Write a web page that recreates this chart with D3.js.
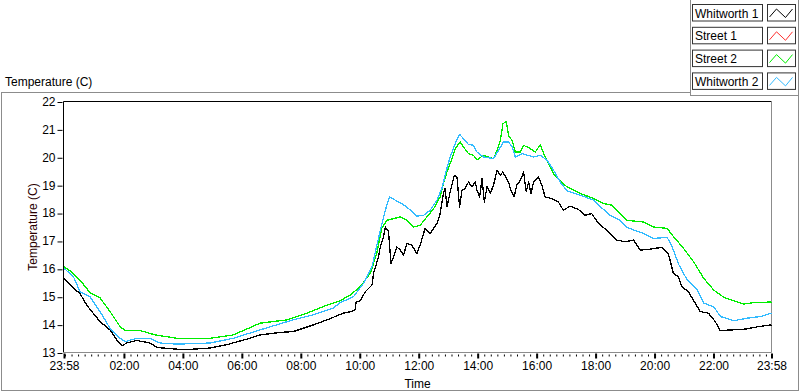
<!DOCTYPE html>
<html>
<head>
<meta charset="utf-8">
<script src="https://cdn.jsdelivr.net/npm/d3@7"></script>
<style>
  body { margin: 0; background: #fff; }
  svg { display: block; font-family: "Liberation Sans", Arial, sans-serif; }
  .axis text { font-size: 12px; fill: #000; }
  .axis line { stroke: #000; }
  .axis path { display: none; }
</style>
</head>
<body>
<div id="chart"></div>
<script>
// hours after 23:58 and temperature (C) for each plot
const whitworth1Hours = [0, 0.32, 0.54, 0.77, 0.99, 1.22, 1.56, 1.79, 1.96, 2.13, 2.47, 2.92, 3.15, 3.83, 4.39, 4.96, 5.52, 6.2, 6.65, 7.33, 7.78, 8.46, 8.92, 9.48, 9.76, 9.88, 9.91, 10.05, 10.22, 10.45, 10.5, 10.67, 10.73, 10.84, 10.9, 11.01, 11.09, 11.18, 11.29, 11.41, 11.52, 11.63, 11.8, 11.97, 12.08, 12.25, 12.42, 12.54, 12.65, 12.76, 12.87, 12.93, 12.99, 13.1, 13.24, 13.33, 13.42, 13.5, 13.61, 13.72, 13.84, 13.95, 14.01, 14.1, 14.18, 14.26, 14.35, 14.46, 14.57, 14.69, 14.8, 14.88, 14.99, 15.08, 15.16, 15.27, 15.36, 15.48, 15.59, 15.68, 15.76, 15.84, 15.93, 16.1, 16.21, 16.32, 16.55, 16.77, 16.94, 17.17, 17.45, 17.67, 17.9, 18.13, 18.47, 18.75, 19.04, 19.32, 19.55, 19.83, 20.28, 20.5, 20.67, 20.84, 20.96, 21.18, 21.41, 21.58, 21.86, 22.09, 22.26, 22.66, 23.12, 23.57, 24];
const whitworth1Temp = [15.66, 15.3, 15.12, 14.7, 14.41, 14.11, 13.81, 13.45, 13.24, 13.34, 13.43, 13.34, 13.18, 13.12, 13.12, 13.16, 13.28, 13.48, 13.63, 13.72, 13.75, 13.99, 14.17, 14.41, 14.47, 14.55, 14.82, 14.85, 15.18, 15.42, 15.84, 16.43, 16.79, 17.15, 17.5, 17.33, 16.2, 16.43, 16.79, 16.67, 16.49, 16.91, 16.85, 16.55, 16.85, 17.45, 17.27, 17.45, 17.63, 17.98, 18.7, 18.88, 18.22, 18.76, 19.35, 19.29, 18.22, 18.82, 18.88, 19.11, 18.94, 19.11, 18.82, 18.58, 19.23, 18.4, 18.94, 18.7, 19.0, 19.53, 19.35, 19.47, 19.29, 19.11, 18.82, 18.58, 19.0, 19.17, 19.47, 18.76, 19.11, 18.7, 19.11, 19.29, 19.0, 18.58, 18.52, 18.4, 18.1, 18.25, 18.13, 17.92, 17.98, 17.63, 17.33, 17.03, 16.97, 17.03, 16.67, 16.7, 16.77, 16.55, 15.84, 15.72, 15.36, 15.18, 14.77, 14.47, 14.41, 14.11, 13.79, 13.81, 13.84, 13.93, 13.99];

// Street 1 is listed in the legend but no red trace shows in the plot
const street1Hours = [];
const street1Temp = [];

const street2Hours = [0, 0.2, 0.54, 0.88, 1.22, 1.56, 1.9, 2.07, 2.58, 3.09, 3.83, 4.96, 5.74, 6.65, 7.56, 8.24, 8.92, 9.37, 9.71, 10.05, 10.39, 10.61, 10.78, 10.95, 11.18, 11.41, 11.63, 11.86, 12.08, 12.31, 12.54, 12.76, 12.87, 12.99, 13.16, 13.27, 13.44, 13.55, 13.72, 13.89, 14.01, 14.23, 14.57, 14.69, 14.8, 14.89, 15.0, 15.08, 15.2, 15.31, 15.48, 15.59, 15.82, 15.99, 16.16, 16.29, 16.44, 16.61, 16.84, 17.06, 17.52, 17.97, 18.31, 18.59, 18.87, 19.1, 19.66, 20.0, 20.46, 20.68, 21.02, 21.36, 21.7, 22.04, 22.38, 22.72, 23.06, 23.4, 24];
const street2Temp = [16.07, 15.93, 15.6, 15.15, 14.96, 14.47, 13.93, 13.79, 13.79, 13.63, 13.51, 13.51, 13.63, 14.05, 14.17, 14.41, 14.7, 14.86, 15.06, 15.36, 15.84, 16.55, 17.45, 17.74, 17.8, 17.86, 17.74, 17.5, 17.56, 17.86, 18.16, 18.58, 19.06, 19.47, 19.95, 20.31, 20.55, 20.37, 20.13, 20.07, 19.91, 20.07, 19.95, 20.25, 20.6, 21.2, 21.29, 20.78, 20.6, 20.19, 20.19, 20.43, 20.31, 20.19, 20.46, 20.07, 19.77, 19.41, 19.15, 18.94, 18.7, 18.52, 18.34, 18.28, 17.98, 17.74, 17.68, 17.5, 17.45, 17.15, 16.73, 16.25, 15.66, 15.24, 14.98, 14.86, 14.74, 14.79, 14.81];

const whitworth2Hours = [0, 0.32, 0.54, 0.88, 1.22, 1.56, 1.9, 2.07, 2.47, 2.92, 3.26, 3.83, 4.96, 5.74, 6.65, 7.77, 8.45, 9.13, 9.37, 9.82, 10.16, 10.45, 10.73, 10.9, 11.04, 11.24, 11.46, 11.69, 11.97, 12.2, 12.42, 12.65, 12.82, 12.97, 13.1, 13.27, 13.42, 13.55, 13.72, 13.89, 14.01, 14.23, 14.57, 14.74, 14.91, 15.08, 15.2, 15.31, 15.54, 15.93, 16.16, 16.39, 16.61, 16.84, 17.06, 17.52, 17.97, 18.2, 18.53, 18.87, 19.1, 19.66, 20.0, 20.46, 20.63, 20.86, 21.14, 21.48, 21.7, 22.04, 22.27, 22.72, 23.17, 23.63, 24];
const whitworth2Temp = [16.02, 15.72, 15.18, 15.0, 14.47, 13.87, 13.51, 13.39, 13.51, 13.51, 13.34, 13.3, 13.34, 13.51, 13.81, 14.17, 14.35, 14.59, 14.79, 15.0, 15.48, 16.07, 17.39, 18.1, 18.58, 18.46, 18.34, 18.16, 17.89, 17.92, 18.1, 18.46, 18.88, 19.53, 20.01, 20.49, 20.82, 20.67, 20.46, 20.43, 20.19, 20.01, 19.95, 20.25, 20.55, 20.55, 20.37, 20.01, 20.13, 20.01, 20.07, 19.89, 19.53, 19.1, 18.8, 18.64, 18.46, 18.22, 17.92, 17.74, 17.48, 17.27, 17.09, 17.13, 16.79, 16.14, 15.6, 15.24, 14.77, 14.64, 14.29, 14.14, 14.23, 14.29, 14.41];

const plotNames = ["Whitworth 1", "Street 1", "Street 2", "Whitworth 2"];
const plotColors = ["#000000", "#ff3030", "#00ee00", "#33bbff"];

const xTickHours = [0, 2.033, 4.033, 6.033, 8.033, 10.033, 12.033, 14.033, 16.033, 18.033, 20.033, 22.033, 24];
const xTickLabels = ["23:58", "02:00", "04:00", "06:00", "08:00", "10:00", "12:00", "14:00", "16:00", "18:00", "20:00", "22:00", "23:58"];
const yTicks = [13, 14, 15, 16, 17, 18, 19, 20, 21, 22];

const plots = [
  [whitworth1Hours, whitworth1Temp],
  [street1Hours, street1Temp],
  [street2Hours, street2Temp],
  [whitworth2Hours, whitworth2Temp]
].map(([h, t], i) => ({
  name: plotNames[i],
  color: plotColors[i],
  values: h.map((d, j) => ({ h: d, t: t[j] }))
}));

const width = 800, height = 392;
const plotLeft = 63.5, plotRight = 771.5, plotTop = 101.5, plotBottom = 352.5;

const svg = d3.select("#chart").append("svg")
  .attr("width", width)
  .attr("height", height);

// outer panel
svg.append("rect")
  .attr("x", 1.5).attr("y", 92.5)
  .attr("width", 797).attr("height", 298)
  .attr("fill", "#fff").attr("stroke", "#8c8c8c");

svg.append("text")
  .attr("x", 5).attr("y", 86)
  .style("font-size", "12px")
  .text("Temperature (C)");

const x = d3.scaleLinear().domain([0, 24]).range([plotLeft + 0.5, plotRight]);
const y = d3.scaleLinear().domain([13, 22]).range([plotBottom, plotTop]);

// plot frame: dark top/left, grey bottom/right
svg.append("line").attr("x1", plotLeft).attr("x2", plotRight).attr("y1", plotTop).attr("y2", plotTop).attr("stroke", "#000");
svg.append("line").attr("x1", plotLeft).attr("x2", plotLeft).attr("y1", plotTop).attr("y2", plotBottom).attr("stroke", "#000");
svg.append("line").attr("x1", plotRight).attr("x2", plotRight).attr("y1", plotTop).attr("y2", plotBottom).attr("stroke", "#8c8c8c");
svg.append("line").attr("x1", plotLeft).attr("x2", plotRight).attr("y1", plotBottom).attr("y2", plotBottom).attr("stroke", "#8c8c8c");

// y axis
svg.append("g")
  .attr("class", "axis")
  .attr("transform", `translate(${plotLeft - 1},0)`)
  .call(d3.axisLeft(y).tickValues(yTicks).tickSize(5).tickPadding(2))
  .call(g => g.selectAll("line").attr("transform", "translate(0,0.5)"));

svg.append("text")
  .attr("transform", `translate(37,${(plotTop + plotBottom) / 2}) rotate(-90)`)
  .attr("text-anchor", "middle")
  .style("font-size", "12px")
  .style("fill", "#2a0000")
  .text("Temperature (C)");

// x axis: minor ticks every 2h/9 from 00:00, major ticks at the labels
const minorTicks = d3.range(0, 108).map(i => 2 / 60 + i * 2 / 9).filter(d => d < 24);
svg.append("g")
  .attr("class", "axis")
  .attr("transform", `translate(0,${plotBottom + 2})`)
  .call(d3.axisBottom(x).tickValues(minorTicks).tickSize(2).tickFormat(""));

svg.append("g")
  .attr("class", "axis")
  .attr("transform", `translate(0,${plotBottom + 1})`)
  .call(d3.axisBottom(x).tickValues(xTickHours).tickSize(5).tickPadding(3)
    .tickFormat((d, i) => xTickLabels[i]))
  .call(g => g.selectAll("line").attr("stroke-width", 2));

svg.append("text")
  .attr("x", (plotLeft + plotRight) / 2)
  .attr("y", 388)
  .attr("text-anchor", "middle")
  .style("font-size", "12px")
  .text("Time");

// traces, drawn aliased like the instrument display
const line = d3.line()
  .x(d => x(d.h))
  .y(d => y(d.t));

svg.append("g")
  .selectAll("path")
  .data(plots)
  .join("path")
  .attr("d", d => line(d.values))
  .attr("fill", "none")
  .attr("stroke", d => d.color)
  .attr("stroke-width", 1.3)
  .attr("stroke-linejoin", "round")
  .attr("shape-rendering", "crispEdges");

// legend
svg.append("rect")
  .attr("x", 690.5).attr("y", -1)
  .attr("width", 108).attr("height", 96.5)
  .attr("fill", "#fff").attr("stroke", "#8c8c8c");

const legend = svg.append("g")
  .selectAll("g")
  .data(plots)
  .join("g")
  .attr("transform", (d, i) => `translate(0,${4.5 + i * 22.8})`);

legend.append("rect")
  .attr("x", 692.5).attr("y", 0)
  .attr("width", 70).attr("height", 16.5)
  .attr("fill", "#fff").attr("stroke", "#333");

legend.append("text")
  .attr("x", 695).attr("y", 13)
  .style("font-size", "12px")
  .text(d => d.name);

legend.append("rect")
  .attr("x", 767.5).attr("y", 0)
  .attr("width", 28).attr("height", 16.5)
  .attr("fill", "#fff").attr("stroke", "#333");

legend.append("path")
  .attr("d", "M769.5,12.5L776.5,4.5L785.5,13L792.5,4.5")
  .attr("fill", "none")
  .attr("stroke", d => d.color);
</script>
</body>
</html>
